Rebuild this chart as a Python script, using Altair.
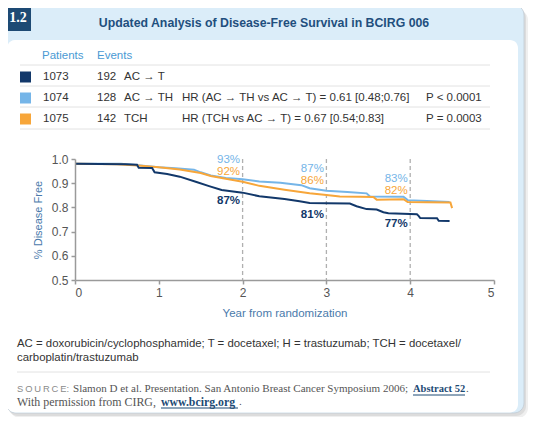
import altair as alt
import pandas as pd

# ---------------- data ----------------
arms = ["AC → T", "AC → TH", "TCH"]
patients = ["1073", "1074", "1075"]
events = ["192", "128", "142"]
hr_texts = ["", "HR (AC → TH vs AC → T) = 0.61 [0.48;0.76]", "HR (TCH vs AC → T) = 0.67 [0.54;0.83]"]
p_texts = ["", "P < 0.0001", "P = 0.0003"]
arm_colors = ["#12386a", "#75b5e8", "#f7a63a"]

act_t = [0, 0.3, 0.6, 0.74, 0.76, 0.92, 0.95, 1.1, 1.25, 1.45, 1.6, 1.75, 2.0, 2.2, 2.5, 2.68, 2.8,
         3.0, 3.28, 3.36, 3.48, 3.6, 3.68, 3.74, 4.08, 4.1, 4.12, 4.32, 4.34, 4.47]
act_v = [0.980, 0.979, 0.978, 0.976, 0.964, 0.963, 0.945, 0.938, 0.927, 0.905, 0.888, 0.872, 0.861,
         0.846, 0.835, 0.825, 0.818, 0.817, 0.816, 0.805, 0.793, 0.791, 0.780, 0.776, 0.772, 0.765,
         0.756, 0.755, 0.745, 0.744]

acth_t = [0, 0.55, 0.75, 1.0, 1.2, 1.42, 1.5, 1.62, 1.8, 2.0, 2.2, 2.45, 2.7, 2.8, 3.0, 3.25,
          3.48, 3.52, 3.92, 3.97, 4.2, 4.47]
acth_v = [0.980, 0.980, 0.974, 0.966, 0.962, 0.956, 0.945, 0.932, 0.922, 0.916, 0.907, 0.902,
          0.892, 0.879, 0.869, 0.864, 0.858, 0.845, 0.844, 0.830, 0.826, 0.822]

tch_t = [0, 0.5, 0.75, 1.0, 1.25, 1.5, 1.62, 1.8, 2.0, 2.2, 2.5, 2.8, 3.0, 3.16, 3.4, 3.56, 3.6,
         3.92, 3.97, 4.2, 4.48, 4.5]
tch_v = [0.980, 0.978, 0.973, 0.966, 0.957, 0.942, 0.930, 0.918, 0.906, 0.889, 0.873, 0.858,
         0.851, 0.845, 0.844, 0.843, 0.832, 0.834, 0.822, 0.821, 0.820, 0.797]

landmark_years = [2, 3, 4]
acth_pct = ["93%", "87%", "83%"]
tch_pct = ["92%", "86%", "82%"]
act_pct = ["87%", "81%", "77%"]

x_ticks = [0, 1, 2, 3, 4, 5]
y_ticks = [0.5, 0.6, 0.7, 0.8, 0.9, 1.0]

footnote = ["AC = doxorubicin/cyclophosphamide; T = docetaxel; H = trastuzumab; TCH = docetaxel/",
            "carboplatin/trastuzumab"]

# ---------------- layout ----------------
OX, OY = 75, 159          # page position of plot origin
W, H = 419, 121
SANS = "Liberation Sans"
SERIF = "Liberation Serif"
NAVY = "#1d4a74"
TXT = 11.5

one = pd.DataFrame({"_": [0]})


def px(x):
    return x - OX


def py(y):
    return y - OY


def box(x1, y1, x2, y2, **kw):
    return alt.Chart(one).mark_rect(**kw).encode(
        x=alt.value(px(x1)), x2=alt.value(px(x2)), y=alt.value(py(y1)), y2=alt.value(py(y2)))


def hline(x1, x2, y, color="#e2e2e2", width=1):
    return alt.Chart(one).mark_rule(color=color, strokeWidth=width).encode(
        x=alt.value(px(x1)), x2=alt.value(px(x2)), y=alt.value(py(y)))


def label(txt, x, y, size=TXT, color="#333333", font=SANS, weight="normal", align="left"):
    return alt.Chart(one).mark_text(
        fontSize=size, color=color, font=font, fontWeight=weight, align=align, baseline="middle"
    ).encode(x=alt.value(px(x)), y=alt.value(py(y)), text=alt.value(txt))


layers = []
# card
layers.append(box(10, 10, 528, 418, fill="#efefef", cornerRadius=10))
layers.append(box(8, 8, 526, 416, fill="#dcdcdc", cornerRadius=10))
layers.append(box(6, 5, 524, 413, fill="#dbedf9", stroke="#c2ccd4", strokeWidth=0.8, cornerRadius=10))
layers.append(box(5, 2, 509, 6, fill=NAVY, cornerRadius=2))
layers.append(box(7, 40, 518, 412.5, fill="white", cornerRadius=8))
layers.append(box(5, 4, 31, 31, fill=NAVY))
layers.append(label("1.2", 18, 18, size=14, color="white", font=SERIF, weight="bold", align="center"))
layers.append(label("Updated Analysis of Disease-Free Survival in BCIRG 006", 264, 23, size=12.3,
                    color="#1f4f7e", font=SANS, weight="bold", align="center"))

# legend table
layers.append(label("Patients", 42, 56, color="#4a9ad4"))
layers.append(label("Events", 97, 56, color="#4a9ad4"))
for yy in [65, 86, 107, 129]:
    layers.append(hline(20, 490, yy))
row_y = [77, 98, 119]
for i in range(3):
    y = row_y[i]
    layers.append(box(20, y - 5.5, 31, y + 5.5, fill=arm_colors[i]))
    layers.append(label(patients[i], 43, y))
    layers.append(label(events[i], 97, y))
    layers.append(label(arms[i], 124, y))
    if hr_texts[i]:
        layers.append(label(hr_texts[i], 182, y))
        layers.append(label(p_texts[i], 426, y))

# ---------------- plot ----------------
curves = pd.concat([
    pd.DataFrame({"t": act_t, "v": act_v, "arm": arms[0]}),
    pd.DataFrame({"t": acth_t, "v": acth_v, "arm": arms[1]}),
    pd.DataFrame({"t": tch_t, "v": tch_v, "arm": arms[2]}),
])

xs = alt.Scale(domain=[0, 5], nice=False)
ys = alt.Scale(domain=[0.5, 1.0], nice=False)

x_axis = alt.Axis(values=x_ticks, format="d", title="Year from randomization", zindex=1,
                  domainColor="#9a9a9a", domainWidth=1.5, tickColor="#9a9a9a", tickWidth=1.5,
                  tickSize=4, labelFontSize=12, labelColor="#555555", labelFont=SANS,
                  labelPadding=3, titleFont=SANS, titleFontSize=11.5, titleFontWeight="normal",
                  titleColor="#4a7aab", titlePadding=9, grid=False)
y_axis = alt.Axis(values=y_ticks, format=".1f", title="% Disease Free", zindex=1,
                  domainColor="#9a9a9a", domainWidth=1.5, tickColor="#9a9a9a", tickWidth=1.5,
                  tickSize=4, labelFontSize=12, labelColor="#555555", labelFont=SANS,
                  labelPadding=3, titleFont=SANS, titleFontSize=11, titleFontWeight="normal",
                  titleColor="#4a7aab", titlePadding=8, grid=False)

dash_df = pd.DataFrame({"t": landmark_years})
dashes = alt.Chart(dash_df).mark_rule(color="#b0b0b0", strokeDash=[4, 3], strokeWidth=1.3).encode(
    x=alt.X("t:Q", scale=xs, axis=x_axis), y=alt.value(0), y2=alt.value(H))

# draw order: light blue, orange, navy
line_layers = [
    alt.Chart(curves[curves.arm == a]).mark_line(strokeWidth=2, color=c).encode(
        x=alt.X("t:Q", scale=xs, axis=x_axis), y=alt.Y("v:Q", scale=ys, axis=y_axis))
    for a, c in [(arms[1], arm_colors[1]), (arms[2], arm_colors[2]), (arms[0], arm_colors[0])]
]

# landmark percentage labels (anchor heights are layout, in data units)
acth_lab_y = [0.994, 0.958, 0.916]
tch_lab_y = [0.946, 0.911, 0.869]
act_lab_y = [0.826, 0.769, 0.731]
lab_rows = []
for i, yr in enumerate(landmark_years):
    lab_rows.append({"t": yr - 0.03, "v": acth_lab_y[i], "txt": acth_pct[i], "arm": arms[1]})
    lab_rows.append({"t": yr - 0.03, "v": tch_lab_y[i], "txt": tch_pct[i], "arm": arms[2]})
    lab_rows.append({"t": yr - 0.03, "v": act_lab_y[i], "txt": act_pct[i], "arm": arms[0]})
lab_df = pd.DataFrame(lab_rows)
pct_layers = []
for a, c, wgt in [(arms[1], arm_colors[1], "normal"), (arms[2], arm_colors[2], "normal"),
                  (arms[0], arm_colors[0], "bold")]:
    pct_layers.append(
        alt.Chart(lab_df[lab_df.arm == a]).mark_text(
            align="right", baseline="middle", fontSize=11.5, font=SANS, fontWeight=wgt, color=c
        ).encode(x=alt.X("t:Q", scale=xs, axis=x_axis), y=alt.Y("v:Q", scale=ys, axis=y_axis),
                 text="txt:N"))

layers += [dashes] + line_layers + pct_layers

# footnotes
layers.append(label(footnote[0], 17, 344, size=11.4))
layers.append(label(footnote[1], 17, 358, size=11.4))
layers.append(hline(17, 490, 372))
layers.append(label("S\u2009O\u2009U\u2009R\u2009C\u2009E:", 17, 389, size=9.4, color="#8a8a8a", font=SANS))
layers.append(label("Slamon D et al. Presentation. San Antonio Breast Cancer Symposium 2006;", 73, 389,
                    size=11.05, color="#555555", font=SERIF))
layers.append(label("Abstract 52", 413, 389, size=10.5, color=NAVY, font=SERIF, weight="bold"))
layers.append(hline(413, 465, 395, color=NAVY, width=1))
layers.append(label(".", 466, 389, size=11.3, color="#555555", font=SERIF))
layers.append(label("With permission from CIRG,", 17, 402, size=11.9, color="#555555", font=SERIF))
layers.append(label("www.bcirg.org", 161, 402, size=11.8, color=NAVY, font=SERIF, weight="bold"))
layers.append(hline(161, 238, 408, color=NAVY, width=1))
layers.append(label(".", 239, 402, size=11.3, color="#555555", font=SERIF))

chart = alt.layer(*layers).properties(
    width=W, height=H,
    autosize=alt.AutoSizeParams(type="none"),
    padding={"left": OX - 8, "top": OY - 8, "right": 522 - (OX - 8) - W, "bottom": 409 - (OY - 8) - H},
    background="white",
).configure_view(stroke=None)

chart.save("out.html", embed_options={"renderer": "svg", "actions": False})
